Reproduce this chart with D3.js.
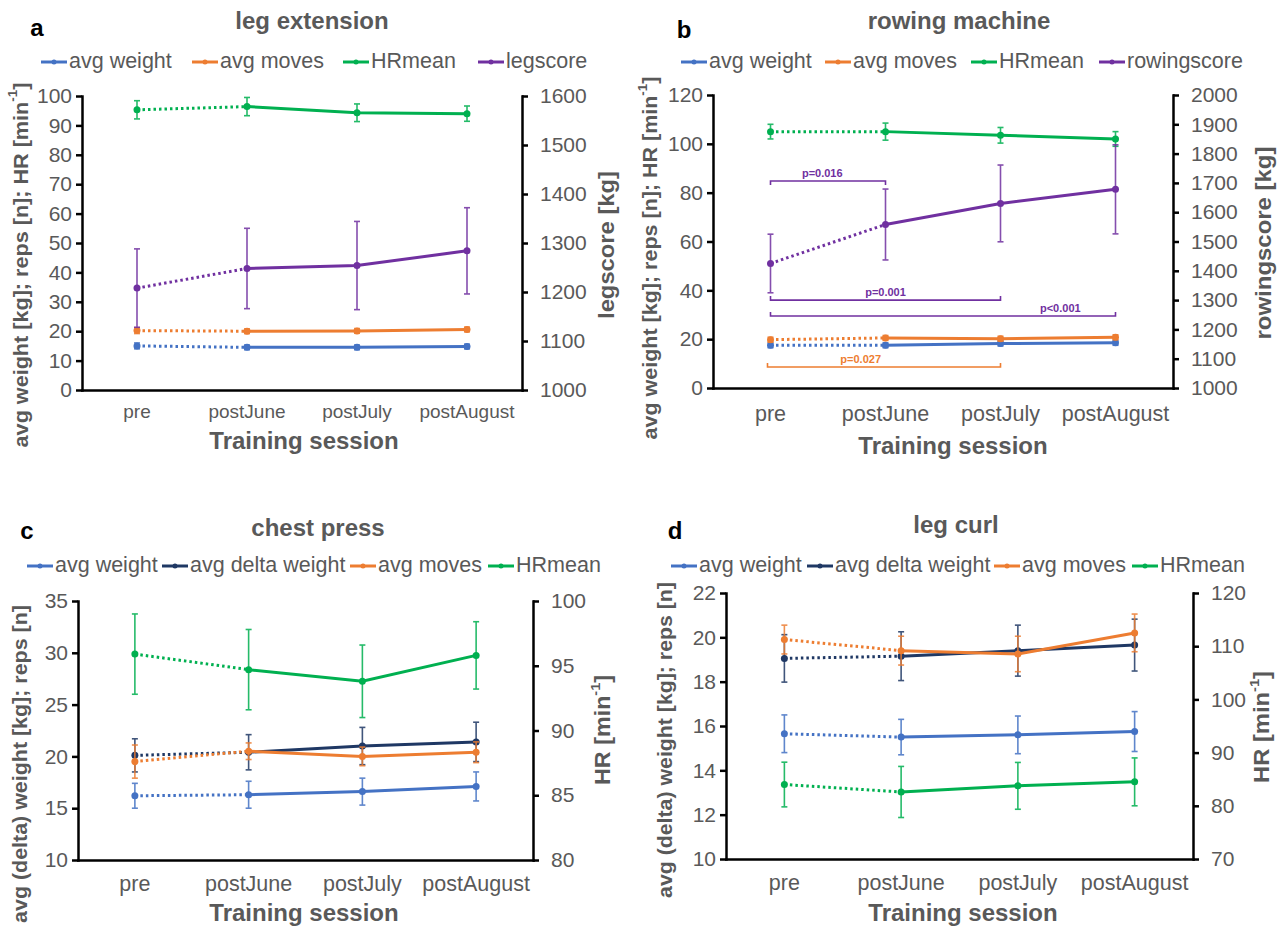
<!DOCTYPE html>
<html>
<head>
<meta charset="utf-8">
<script src="https://cdn.jsdelivr.net/npm/d3@7"></script>
<style>
  body { margin: 0; background: #fff; }
  svg { font-family: "Liberation Sans", Arial, sans-serif; }
  .axis path, .axis line { stroke: #000; stroke-width: 2.5; }
  .axis text { fill: #595959; font-size: 21px; }
</style>
</head>
<body>
<div id="chart"></div>
<script>
// categories
const cats = ["pre", "postJune", "postJuly", "postAugust"]

// a - leg extension
const legWeight = [15.0, 14.5, 14.5, 14.8]
const legWeightSd = [1.0, 0.8, 0.8, 0.8]
const legMoves = [20.2, 20.0, 20.1, 20.6]
const legMovesSd = [1.0, 0.8, 0.8, 0.8]
const legHR = [95.3, 96.4, 94.3, 94.0]
const legHRSd = [3.1, 3.1, 3.0, 2.6]
const legScore = [1208, 1248, 1254, 1284]
const legScoreSd = [80, 82, 90, 88]

// b - rowing machine
const rowWeight = [17.5, 17.5, 18.2, 18.5]
const rowWeightSd = [1.0, 1.0, 1.0, 1.0]
const rowMoves = [19.8, 20.5, 20.2, 20.8]
const rowMovesSd = [1.0, 1.0, 1.0, 1.0]
const rowHR = [105.0, 105.0, 103.5, 102.0]
const rowHRSd = [3.0, 3.5, 3.2, 3.0]
const rowScore = [1425, 1558, 1630, 1678]
const rowScoreSd = [100, 121, 131, 152]
const rowPvals = [
  { label: "p=0.016", from: "pre", to: "postJune", series: "score" },
  { label: "p=0.001", from: "pre", to: "postJuly", series: "score" },
  { label: "p<0.001", from: "pre", to: "postAugust", series: "score" },
  { label: "p=0.027", from: "pre", to: "postJuly", series: "moves" }
]

// c - chest press
const chestWeight = [16.2, 16.3, 16.6, 17.1]
const chestWeightSd = [1.2, 1.3, 1.3, 1.4]
const chestDelta = [20.1, 20.4, 21.0, 21.4]
const chestDeltaSd = [1.6, 1.7, 1.8, 1.9]
const chestMoves = [19.5, 20.5, 20.0, 20.4]
const chestMovesSd = [1.6, 0.8, 0.9, 1.0]
const chestHR = [95.9, 94.7, 93.8, 95.8]
const chestHRSd = [3.1, 3.1, 2.8, 2.6]

// d - leg curl
const curlWeight = [15.65, 15.5, 15.6, 15.75]
const curlWeightSd = [0.85, 0.8, 0.85, 0.9]
const curlDelta = [19.05, 19.15, 19.4, 19.65]
const curlDeltaSd = [1.07, 1.1, 1.15, 1.17]
const curlMoves = [19.9, 19.4, 19.25, 20.2]
const curlMovesSd = [0.65, 0.65, 0.8, 0.85]
const curlHR = [84.0, 82.6, 83.75, 84.5]
const curlHRSd = [4.2, 4.8, 4.4, 4.5]

const colors = {
  weight: "#4472C4",
  delta: "#1F3864",
  moves: "#ED7D31",
  hr: "#00B050",
  score: "#7030A0"
}
const gray = "#595959"

const svg = d3.select("#chart").append("svg")
  .attr("width", 1285)
  .attr("height", 929)

svg.append("rect").attr("width", 1285).attr("height", 929).attr("fill", "#fff")

const panels = [
  {
    letter: "a", letterPos: [37, 30], title: "leg extension", titlePos: [312, 23],
    left: 82, right: 522, top: 96, bottom: 390,
    leftDomain: [0, 100], leftTicks: d3.range(0, 101, 10),
    rightDomain: [1000, 1600], rightTicks: d3.range(1000, 1601, 100),
    legendX: [41, 192, 343, 478], legendY: 62,
    leftTitle: ["avg weight [kg]; reps [n]; HR [min", "-1", "]"], leftTitlePos: [22, 265], leftTitleLen: 365,
    rightTitle: ["legscore [kg]"], rightTitlePos: [608, 245], rightTitleLen: 148,
    catY: 413, catSize: 19, xTitlePos: [304, 443],
    series: [
      { name: "avg weight", key: "weight", values: legWeight, sd: legWeightSd, axis: "L" },
      { name: "avg moves", key: "moves", values: legMoves, sd: legMovesSd, axis: "L" },
      { name: "HRmean", key: "hr", values: legHR, sd: legHRSd, axis: "L" },
      { name: "legscore", key: "score", values: legScore, sd: legScoreSd, axis: "R" }
    ]
  },
  {
    letter: "b", letterPos: [684, 32], title: "rowing machine", titlePos: [959, 23],
    left: 713, right: 1173, top: 95, bottom: 388,
    leftDomain: [0, 120], leftTicks: d3.range(0, 121, 20),
    rightDomain: [1000, 2000], rightTicks: d3.range(1000, 2001, 100),
    legendX: [681, 825, 971, 1099], legendY: 62,
    leftTitle: ["avg weight [kg]; reps [n]; HR [min", "-1", "]"], leftTitlePos: [652, 258], leftTitleLen: 363,
    rightTitle: ["rowingscore [kg]"], rightTitlePos: [1265, 243], rightTitleLen: 193,
    catY: 415, catSize: 21.5, xTitlePos: [953, 448],
    series: [
      { name: "avg weight", key: "weight", values: rowWeight, sd: rowWeightSd, axis: "L" },
      { name: "avg moves", key: "moves", values: rowMoves, sd: rowMovesSd, axis: "L" },
      { name: "HRmean", key: "hr", values: rowHR, sd: rowHRSd, axis: "L" },
      { name: "rowingscore", key: "score", values: rowScore, sd: rowScoreSd, axis: "R" }
    ],
    pvals: rowPvals,
    // bracket level (left axis units), tick direction, label position along bracket
    brackets: [
      { level: 84.8, dir: 1, at: 0.45 },
      { level: 36, dir: -1, at: 0.5 },
      { level: 29.5, dir: -1, at: 0.84 },
      { level: 8.6, dir: -1, at: 0.4, dx0: -3 }
    ]
  },
  {
    letter: "c", letterPos: [27, 533], title: "chest press", titlePos: [318, 530],
    left: 78, right: 533, top: 601, bottom: 860,
    leftDomain: [10, 35], leftTicks: d3.range(10, 36, 5),
    rightDomain: [80, 100], rightTicks: d3.range(80, 101, 5),
    legendX: [27, 162, 350, 488], legendY: 566,
    leftTitle: ["avg (delta) weight [kg]; reps [n]"], leftTitlePos: [22, 764], leftTitleLen: 318,
    rightTitle: ["HR [min", "-1", "]"], rightTitlePos: [604, 730], rightTitleLen: 110,
    catY: 885, catSize: 21.5, xTitlePos: [304, 915],
    series: [
      { name: "avg weight", key: "weight", values: chestWeight, sd: chestWeightSd, axis: "L" },
      { name: "avg delta weight", key: "delta", values: chestDelta, sd: chestDeltaSd, axis: "L" },
      { name: "avg moves", key: "moves", values: chestMoves, sd: chestMovesSd, axis: "L" },
      { name: "HRmean", key: "hr", values: chestHR, sd: chestHRSd, axis: "R" }
    ]
  },
  {
    letter: "d", letterPos: [675, 533], title: "leg curl", titlePos: [956, 527],
    left: 726, right: 1193, top: 593, bottom: 859,
    leftDomain: [10, 22], leftTicks: d3.range(10, 23, 2),
    rightDomain: [70, 120], rightTicks: d3.range(70, 121, 10),
    legendX: [671, 807, 994, 1132], legendY: 566,
    leftTitle: ["avg (delta) weight [kg]; reps [n]"], leftTitlePos: [667, 740], leftTitleLen: 316,
    rightTitle: ["HR [min", "-1", "]"], rightTitlePos: [1263, 727], rightTitleLen: 112,
    catY: 884, catSize: 21.5, xTitlePos: [963, 915],
    series: [
      { name: "avg weight", key: "weight", values: curlWeight, sd: curlWeightSd, axis: "L" },
      { name: "avg delta weight", key: "delta", values: curlDelta, sd: curlDeltaSd, axis: "L" },
      { name: "avg moves", key: "moves", values: curlMoves, sd: curlMovesSd, axis: "L" },
      { name: "HRmean", key: "hr", values: curlHR, sd: curlHRSd, axis: "R" }
    ]
  }
]

// rotated title with optional superscript part, stretched along its length to fit
function rotTitle(g, parts, pos, size, len) {
  const holder = g.append("g")
  const t = holder.append("text")
    .attr("text-anchor", "middle")
    .attr("dominant-baseline", "middle")
    .attr("fill", gray)
    .attr("font-weight", "bold")
    .attr("font-size", size)
  t.append("tspan").text(parts[0])
  if (parts.length > 1) {
    t.append("tspan").attr("dy", -8).attr("font-size", size * 0.62).text(parts[1])
    t.append("tspan").attr("dy", 8).text(parts[2])
  }
  const w = t.node().getBBox().width
  const k = len / w
  holder.attr("transform", "translate(" + pos[0] + "," + pos[1] + ") rotate(-90) scale(" + k + ",1)")
}

function drawPanel(cfg) {
  const g = svg.append("g")

  const x = d3.scaleBand().domain(cats).range([cfg.left, cfg.right])
  const cx = (c) => x(c) + x.bandwidth() / 2
  const yL = d3.scaleLinear().domain(cfg.leftDomain).range([cfg.bottom, cfg.top])
  const yR = d3.scaleLinear().domain(cfg.rightDomain).range([cfg.bottom, cfg.top])

  //Axes
  g.append("g")
    .attr("class", "axis")
    .attr("transform", "translate(" + cfg.left + ",0)")
    .call(d3.axisLeft(yL).tickValues(cfg.leftTicks).tickFormat(d3.format("d"))
      .tickSize(6).tickSizeOuter(0).tickPadding(4))

  g.append("g")
    .attr("class", "axis")
    .attr("transform", "translate(" + cfg.right + ",0)")
    .call(d3.axisRight(yR).tickValues(cfg.rightTicks).tickFormat(d3.format("d"))
      .tickSize(6).tickSizeOuter(0).tickPadding(12))

  g.append("g")
    .attr("class", "axis")
    .attr("transform", "translate(0," + cfg.bottom + ")")
    .call(d3.axisBottom(x).tickSize(0).tickSizeOuter(0).tickFormat(""))

  g.selectAll(".axis .domain").attr("stroke-linecap", "square")

  //Category labels
  g.selectAll(".cat")
    .data(cats)
    .enter().append("text")
    .attr("x", (d) => cx(d))
    .attr("y", cfg.catY)
    .attr("text-anchor", "middle")
    .attr("dominant-baseline", "middle")
    .attr("fill", gray)
    .attr("font-size", cfg.catSize)
    .text((d) => d)

  //Titles
  g.append("text")
    .attr("x", cfg.titlePos[0]).attr("y", cfg.titlePos[1])
    .attr("text-anchor", "middle").attr("dominant-baseline", "middle")
    .attr("fill", gray).attr("font-weight", "bold").attr("font-size", 24)
    .text(cfg.title)

  g.append("text")
    .attr("x", cfg.letterPos[0]).attr("y", cfg.letterPos[1])
    .attr("text-anchor", "middle").attr("dominant-baseline", "middle")
    .attr("fill", "#000").attr("font-weight", "bold").attr("font-size", 24)
    .text(cfg.letter)

  g.append("text")
    .attr("x", cfg.xTitlePos[0]).attr("y", cfg.xTitlePos[1])
    .attr("text-anchor", "middle").attr("dominant-baseline", "middle")
    .attr("fill", gray).attr("font-weight", "bold").attr("font-size", 24)
    .text("Training session")

  rotTitle(g, cfg.leftTitle, cfg.leftTitlePos, 20, cfg.leftTitleLen)
  rotTitle(g, cfg.rightTitle, cfg.rightTitlePos, 22, cfg.rightTitleLen)

  //Legend
  const ly = cfg.legendY
  cfg.series.forEach((s, i) => {
    const col = colors[s.key]
    const lx = cfg.legendX[i]
    g.append("line")
      .attr("x1", lx).attr("x2", lx + 26).attr("y1", ly).attr("y2", ly)
      .attr("stroke", col).attr("stroke-width", 3)
    g.append("circle").attr("cx", lx + 13).attr("cy", ly).attr("r", 2.5).attr("fill", col)
    g.append("text")
      .attr("x", lx + 28).attr("y", ly)
      .attr("dominant-baseline", "middle")
      .attr("fill", gray).attr("font-size", 21.5)
      .text(s.name)
  })

  //Series
  cfg.series.forEach((s) => {
    const col = colors[s.key]
    const y = s.axis === "L" ? yL : yR
    const pts = cats.map((c, i) => ({ c: c, v: s.values[i], sd: s.sd[i] }))
    const line = d3.line().x((d) => cx(d.c)).y((d) => y(d.v))

    const sg = g.append("g")

    // error bars
    const eb = sg.selectAll(".eb").data(pts).enter().append("g")
      .attr("stroke", col).attr("stroke-width", 1.6).attr("opacity", 0.85)
    eb.append("line")
      .attr("x1", (d) => cx(d.c)).attr("x2", (d) => cx(d.c))
      .attr("y1", (d) => y(d.v - d.sd)).attr("y2", (d) => y(d.v + d.sd))
    eb.append("line")
      .attr("x1", (d) => cx(d.c) - 3).attr("x2", (d) => cx(d.c) + 3)
      .attr("y1", (d) => y(d.v - d.sd)).attr("y2", (d) => y(d.v - d.sd))
    eb.append("line")
      .attr("x1", (d) => cx(d.c) - 3).attr("x2", (d) => cx(d.c) + 3)
      .attr("y1", (d) => y(d.v + d.sd)).attr("y2", (d) => y(d.v + d.sd))

    // pre -> postJune dotted, then solid
    sg.append("path")
      .attr("d", line(pts.slice(0, 2)))
      .attr("fill", "none").attr("stroke", col)
      .attr("stroke-width", 3).attr("stroke-dasharray", "2.5,3")
    sg.append("path")
      .attr("d", line(pts.slice(1)))
      .attr("fill", "none").attr("stroke", col)
      .attr("stroke-width", 3)

    sg.selectAll("circle").data(pts).enter().append("circle")
      .attr("cx", (d) => cx(d.c)).attr("cy", (d) => y(d.v))
      .attr("r", 3.5).attr("fill", col)
  })

  //Significance brackets
  if (cfg.pvals) {
    cfg.pvals.forEach((p, i) => {
      const b = cfg.brackets[i]
      const col = colors[p.series]
      const x1 = cx(p.from) + (b.dx0 || 0)
      const x2 = cx(p.to)
      const yy = yL(b.level)
      const tick = 4 * b.dir
      g.append("path")
        .attr("d", "M" + x1 + "," + (yy + tick) + "V" + yy + "H" + x2 + "V" + (yy + tick))
        .attr("fill", "none").attr("stroke", col).attr("stroke-width", 1.6)
      g.append("text")
        .attr("x", x1 + (x2 - x1) * b.at).attr("y", yy - 4)
        .attr("text-anchor", "middle")
        .attr("fill", col).attr("font-weight", "bold").attr("font-size", 11)
        .text(p.label)
    })
  }
}

panels.forEach(drawPanel)
</script>
</body>
</html>
